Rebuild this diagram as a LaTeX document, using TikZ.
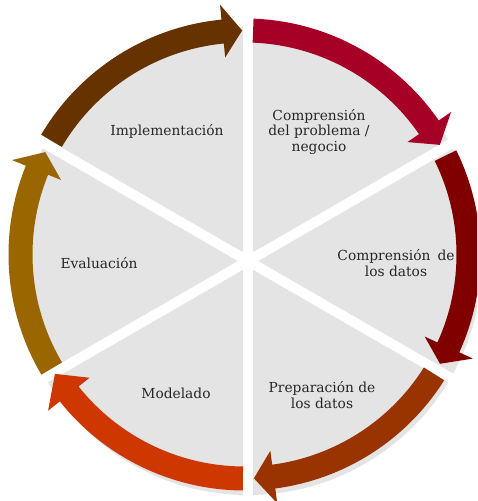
\documentclass[tikz,border=0pt]{standalone}
\usepackage{fontspec}
\setmainfont{DejaVu Serif}
\usetikzlibrary{positioning}
\definecolor{fondo}{RGB}{228,228,228}
\definecolor{rojo}{RGB}{166,0,38}
\definecolor{granate}{RGB}{128,0,0}
\definecolor{ladrillo}{RGB}{153,51,0}
\definecolor{naranja}{RGB}{206,56,0}
\definecolor{ocre}{RGB}{153,102,0}
\definecolor{cafe}{RGB}{102,51,0}

\begin{document}
\begin{tikzpicture}[x=0.5pt,y=0.5pt]
                \tikzstyle{etapa} = [align=center, font=\fontsize{6.9}{7.8}\selectfont, text=black!85, inner sep=0pt];

                \useasboundingbox (0,0) rectangle (477,501);
                \clip (0,0) rectangle (477,501);

                \coordinate (O) at (248,240);
                \coordinate (A) at (244.5,246.5);

                \fill[fondo] (O) circle[radius=234];
                \foreach \ang in {90,30,-30}
                    \draw[white, line width=5pt] ([shift={(\ang:245)}]O) -- ([shift={(\ang+180:245)}]O);

                \begin{scope}[shift={(A)}]
                \foreach \t/\b/\p/\col in {87.8/34.6/29.3/rojo, 26.2/-24.5/-29.2/granate, -32.2/-82.5/-87.6/ladrillo, -90.4/-141.5/-147.8/naranja, -149.4/-202.1/-207.2/ocre, -210.5/-264.4/-269.4/cafe}
                    \fill[\col] (\t:236) arc[start angle=\t, end angle=\b, radius=236]
                        -- (\b:251) -- (\p:224) -- (\b:198) -- (\b:212)
                        arc[start angle=\b, end angle=\t, radius=212] -- cycle;
                \end{scope}

                \node[etapa] (C) at (319,369) {Comprensión\\del problema /\\negocio};
                \node[etapa] (D) at (396,238) {Comprensión\hspace{3.5pt}de\\los datos};
                \node[etapa] (P) at (322,106) {Preparación de\\los datos};
                \node[etapa] (M) at (176,108) {Modelado};
                \node[etapa] (E) at (99,238) {Evaluación};
                \node[etapa] (I) at (167,370) {Implementación};
            \end{tikzpicture}
\end{document}
